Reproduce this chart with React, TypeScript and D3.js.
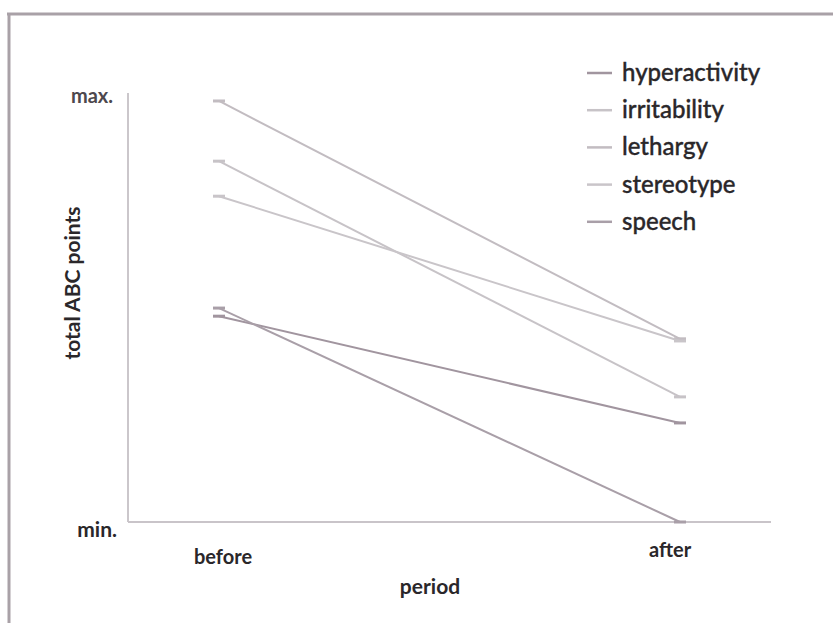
import React from "react";
import * as d3 from "d3";

const periods = ["before", "after"];
const seriesNames = ["hyperactivity", "irritability", "lethargy", "stereotype", "speech"];
const beforeValues = [48.2, 84.5, 98.6, 76.3, 50.1];
const afterValues = [23.2, 29.3, 42.9, 42.4, 0];
const seriesColors = ["#a1959f", "#c7c3c7", "#c2bcc1", "#c9c5c9", "#a99fa8"];
const yTickLabels = ["min.", "max."];

const W = 833;
const H = 623;

export default function App() {
  const x = d3.scalePoint<string>().domain(periods).range([219, 680]);
  const y = d3.scaleLinear().domain([0, 100]).range([522, 95]);
  const line = d3
    .line<{ p: string; v: number }>()
    .x((d) => x(d.p) as number)
    .y((d) => y(d.v));

  const series = seriesNames.map((name, i) => ({
    name,
    color: seriesColors[i],
    pts: [
      { p: periods[0], v: beforeValues[i] },
      { p: periods[1], v: afterValues[i] },
    ],
  }));

  const font = "Lato, 'Open Sans', sans-serif";
  const textColor = "#2a272a";

  return (
    <svg
      width={W}
      height={H}
      style={{ position: "absolute", left: 0, top: 0, background: "#fff" }}
    >
      <rect x={0} y={0} width={W} height={H} fill="#ffffff" />
      {/* scan frame */}
      <line x1={7} x2={W} y1={14} y2={14} stroke="#a9a1a7" strokeWidth={3} />
      <line x1={9} x2={9} y1={13} y2={H} stroke="#a9a1a7" strokeWidth={3} />

      {/* axes */}
      <line x1={128} x2={128} y1={y(100) - 2} y2={y(0)} stroke="#cbc7cb" strokeWidth={2} />
      <line x1={128} x2={771} y1={y(0)} y2={y(0)} stroke="#c9c4c9" strokeWidth={2} />

      {/* y tick labels */}
      <text x={113} y={y(100) + 8} textAnchor="end" fontFamily={font} fontWeight={700} fontSize={20} fill="#4d484d">
        {yTickLabels[1]}
      </text>
      <text x={117} y={y(0) + 15} textAnchor="end" fontFamily={font} fontWeight={700} fontSize={21} fill={textColor}>
        {yTickLabels[0]}
      </text>

      {/* x tick labels */}
      {periods.map((p, i) => (
        <text
          key={p}
          x={(x(p) as number) + (i === 0 ? 4 : -10)}
          y={i === 0 ? 564 : 557}
          textAnchor="middle"
          fontFamily={font}
          fontWeight={700}
          fontSize={20}
          fill={textColor}
        >
          {p}
        </text>
      ))}

      {/* axis titles */}
      <text x={430} y={594} textAnchor="middle" fontFamily={font} fontWeight={700} fontSize={21} fill={textColor}>
        period
      </text>
      <text
        transform={`translate(80,283) rotate(-90)`}
        textAnchor="middle"
        fontFamily={font}
        fontWeight={700}
        fontSize={21}
        fill={textColor}
      >
        total ABC points
      </text>

      {/* series */}
      {series.map((s) => (
        <g key={s.name}>
          <path d={line(s.pts) as string} fill="none" stroke={s.color} strokeWidth={2} />
          {s.pts.map((pt) => (
            <line
              key={pt.p}
              x1={(x(pt.p) as number) - 6}
              x2={(x(pt.p) as number) + 6}
              y1={y(pt.v)}
              y2={y(pt.v)}
              stroke={s.color}
              strokeWidth={3}
            />
          ))}
        </g>
      ))}

      {/* legend */}
      {series.map((s, i) => (
        <g key={s.name} transform={`translate(587,${73 + i * 37.2})`}>
          <line x1={0} x2={25} y1={0} y2={0} stroke={s.color} strokeWidth={2.5} />
          <text x={35} y={8} fontFamily={font} fontSize={24} fontWeight={500} fill={textColor} stroke={textColor} strokeWidth={0.35}>
            {s.name}
          </text>
        </g>
      ))}
    </svg>
  );
}
